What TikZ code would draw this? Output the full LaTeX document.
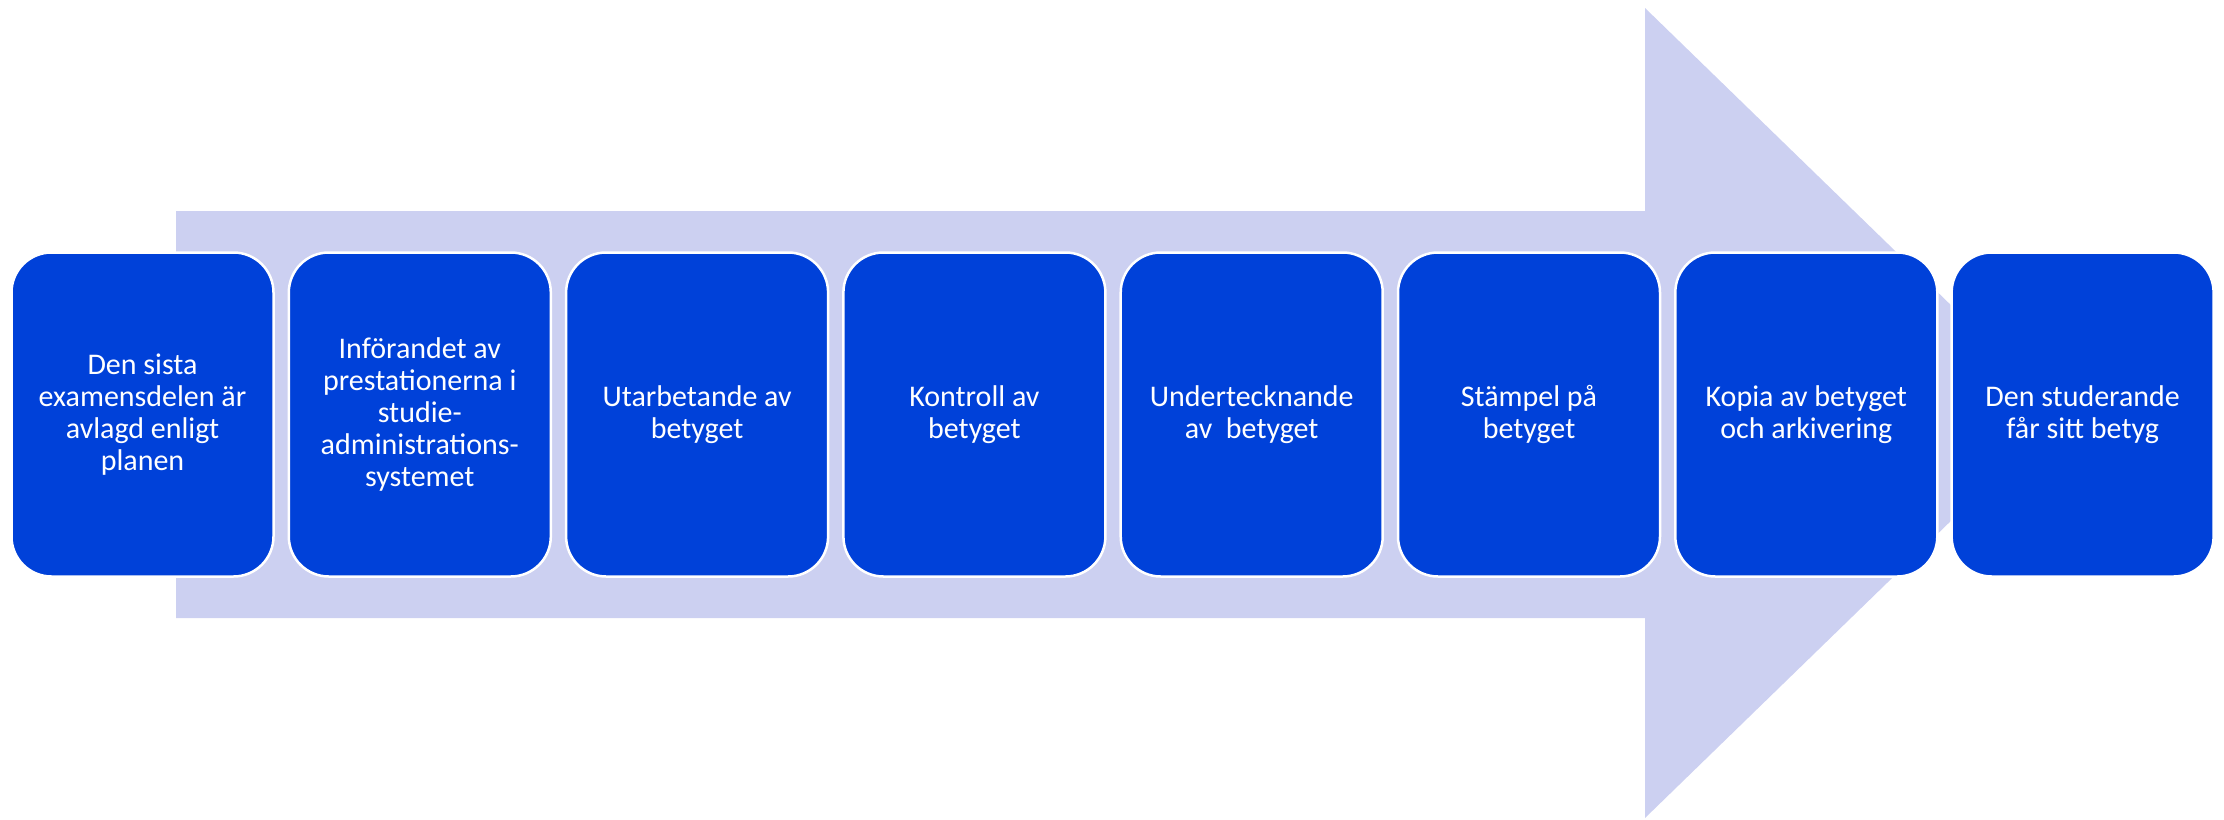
\documentclass[tikz,border=0pt]{standalone}
\usepackage{fontspec}
\setmainfont{Carlito}
\definecolor{boxblue}{RGB}{0,65,217}
\definecolor{arrowlav}{RGB}{204,208,241}
\begin{document}
\begin{tikzpicture}[x=1pt,y=-1pt,
  stepbox/.style={draw=white,line width=2.5pt,fill=boxblue,rounded corners=40pt,
    minimum width=262pt,minimum height=324pt,inner sep=0pt,text=white,align=center,
    font=\fontsize{30}{32}\selectfont},
  bigarrow/.style={fill=arrowlav,draw=none}]
\useasboundingbox (0,0) rectangle (2224,819);
\fill[bigarrow] (176,211) -- (1645,211) -- (1645,8) -- (2062,413) -- (1645,818) -- (1645,618) -- (176,618) -- cycle;
\node[stepbox] (b1) at (142.5,414.5) {Den sista\\examensdelen är\\avlagd enligt\\planen};
\node[stepbox] (b2) at (419.8,414.5) {Införandet av\\prestationerna i\\studie-\\administrations-\\systemet};
\node[stepbox] (b3) at (697.1,414.5) {Utarbetande av\\betyget};
\node[stepbox] (b4) at (974.4,414.5) {Kontroll av\\betyget};
\node[stepbox] (b5) at (1251.7,414.5) {Undertecknande\\av\ \ betyget};
\node[stepbox] (b6) at (1529.0,414.5) {Stämpel på\\betyget};
\node[stepbox] (b7) at (1806.3,414.5) {Kopia av betyget\\och arkivering};
\node[stepbox] (b8) at (2082.6,414.5) {Den studerande\\får sitt betyg};
\end{tikzpicture}
\end{document}
